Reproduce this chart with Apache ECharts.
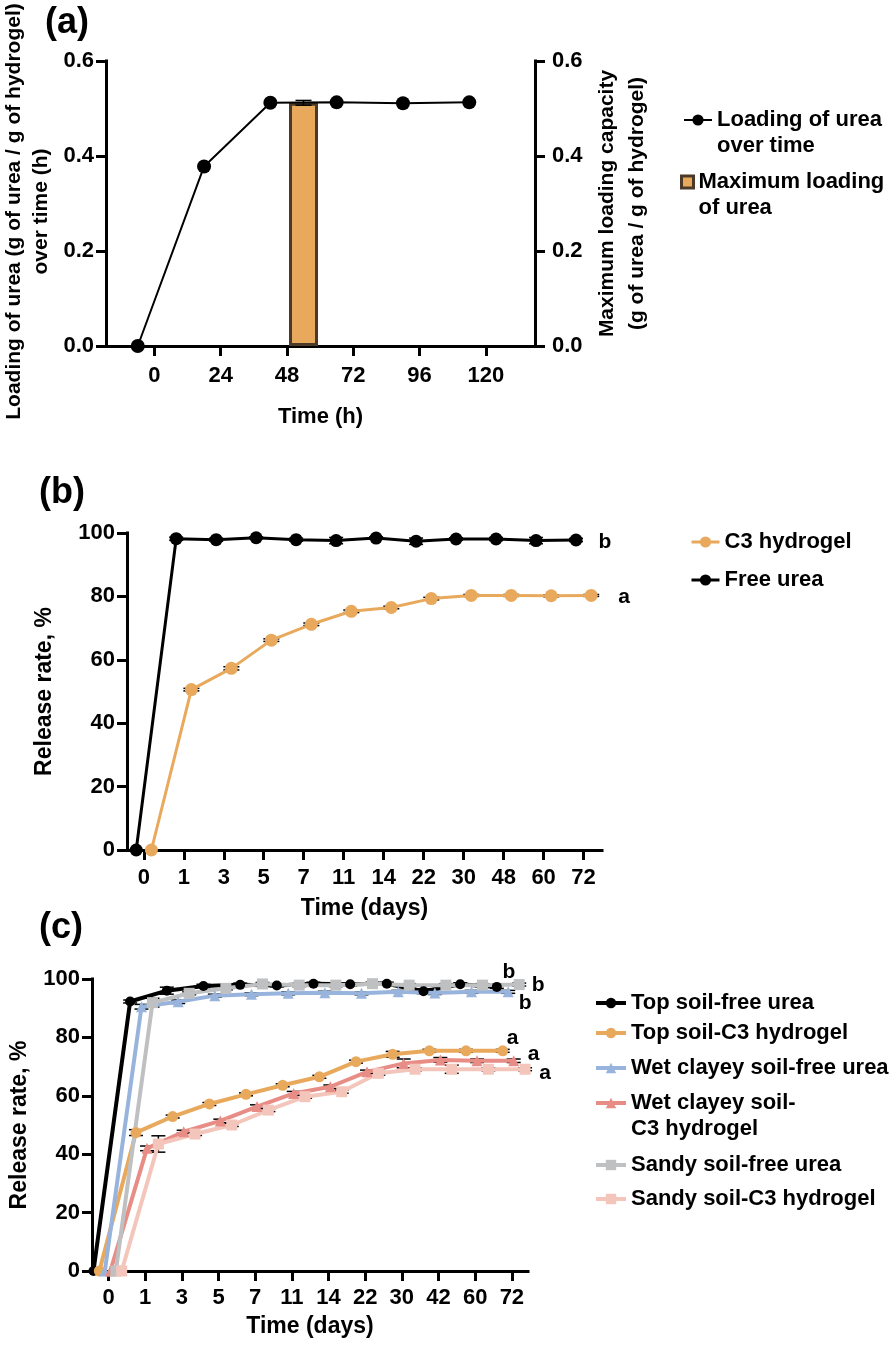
<!DOCTYPE html>
<html><head><meta charset="utf-8">
<script src="https://cdn.jsdelivr.net/npm/echarts@6/dist/echarts.min.js"></script>
<style>html,body{margin:0;padding:0;background:#fff}#c{width:896px;height:1347px}</style>
</head><body><div id="c"></div>
<script>
// ================= DATA =================
// (a) loading of urea over time
const aTimeH = [0, 24, 48, 72, 96, 120];
const aLoading = [0.000, 0.378, 0.512, 0.513, 0.511, 0.513];
const aMaxLoadingTime = 48;
const aMaxLoading = 0.512;
const aMaxLoadingErr = 0.005;
const aXTicks = [0, 24, 48, 72, 96, 120];

// (b) release in water
const bDayLabels = ['0','1','3','5','7','11','14','22','30','48','60','72'];
const bC3 = [0, 50.6, 57.3, 66.2, 71.2, 75.3, 76.5, 79.3, 80.3, 80.3, 80.2, 80.3];
const bC3Err = [0, 0.4, 0.5, 0.4, 0.4, 0.4, 0.4, 0.4, 0.3, 0.3, 0.3, 0.3];
const bFree = [0, 98.2, 97.9, 98.5, 97.9, 97.6, 98.4, 97.4, 98.1, 98.1, 97.6, 97.8];
const bFreeErr = [0, 0.5, 0.5, 0.3, 0.5, 1.0, 0.4, 1.0, 0.4, 0.5, 1.0, 0.5];

// (c) release in soils
const cDayLabels = ['0','1','3','5','7','11','14','22','30','42','60','72'];
const cTopFree = [0, 92.3, 96.0, 97.6, 98.0, 97.8, 98.4, 98.2, 98.4, 95.8, 98.2, 97.3];
const cTopFreeErr = [0, 0.5, 1.2, 0.6, 0.6, 0.5, 0.5, 0.5, 0.5, 0.8, 0.5, 0.5];
const cTopC3 = [0, 47.4, 52.9, 57.2, 60.5, 63.6, 66.5, 71.7, 74.2, 75.4, 75.4, 75.4];
const cTopC3Err = [0, 1.0, 0.5, 0.5, 0.5, 0.5, 0.5, 0.5, 1.0, 0.5, 0.5, 0.5];
const cWetFree = [0, 90.5, 92.2, 94.3, 94.8, 95.1, 95.3, 95.1, 95.6, 95.2, 95.6, 95.6];
const cWetFreeErr = [0, 0.8, 0.6, 0.5, 0.5, 0.5, 0.5, 0.5, 0.5, 0.5, 0.5, 0.5];
const cWetC3 = [0, 42.0, 47.7, 51.4, 56.3, 60.8, 63.1, 68.2, 71.1, 72.3, 72.0, 72.0];
const cWetC3Err = [0, 0.8, 0.5, 0.6, 0.6, 0.7, 0.6, 0.6, 1.5, 0.8, 0.6, 0.6];
const cSandFree = [0, 91.9, 95.1, 96.8, 98.3, 97.9, 97.9, 98.4, 97.9, 97.9, 97.9, 98.1];
const cSandFreeErr = [0, 1.5, 0.5, 0.5, 0.5, 0.5, 0.5, 0.5, 0.5, 0.5, 0.5, 0.5];
const cSandC3 = [0, 43.5, 46.9, 50.0, 55.1, 59.7, 61.4, 67.7, 69.1, 69.1, 69.1, 69.1];
const cSandC3Err = [0, 2.8, 0.5, 0.5, 0.5, 0.5, 0.5, 0.6, 0.5, 1.4, 0.5, 0.5];

// ================= STYLE =================
const FONT = "'Liberation Sans', Arial, Helvetica, sans-serif";
const TXT = {fontFamily: FONT, fontWeight: 'bold', color: '#000'};
const ORANGE = '#E9A95D', BLUE = '#98B4DC', RED = '#E88C86', GREY = '#BEC0C2', PINK = '#F4C6BB', BROWN = '#4B3A28';

const axisLine = () => ({show: true, onZero: false, lineStyle: {color: '#000', width: 3, cap: 'square'}});
const axisTick = (cv) => { const t = {show: true, inside: false, length: 10, lineStyle: {color: '#000', width: 3}}; if (cv) t.customValues = cv; return t; };
const idx = (arr) => arr.map((_, i) => i);

function errRender(capHalf) {
  return function (params, api) {
    const x = api.value(0), lo = api.value(1), hi = api.value(2);
    const a = api.coord([x, lo]), b = api.coord([x, hi]);
    const st = {stroke: '#000', lineWidth: 1.5, fill: null};
    return {type: 'group', children: [
      {type: 'line', shape: {x1: a[0], y1: a[1], x2: b[0], y2: b[1]}, style: st},
      {type: 'line', shape: {x1: a[0] - capHalf, y1: a[1], x2: a[0] + capHalf, y2: a[1]}, style: st},
      {type: 'line', shape: {x1: b[0] - capHalf, y1: b[1], x2: b[0] + capHalf, y2: b[1]}, style: st}
    ]};
  };
}
function errSeries(xi, yi, xs, vals, errs, capHalf, z) {
  const data = [];
  vals.forEach((v, i) => { if (errs[i] > 0) data.push([xs[i], v - errs[i], v + errs[i]]); });
  return {type: 'custom', xAxisIndex: xi, yAxisIndex: yi, renderItem: errRender(capHalf),
    encode: {x: 0, y: [1, 2]}, data, z: z || 2, silent: true};
}
function lineData(xs, vals, letter, off) {
  return vals.map((v, i) => {
    const d = {value: [xs[i], v]};
    if (letter && i === vals.length - 1) {
      d.label = {show: true, position: 'inside', formatter: letter, offset: off,
        fontSize: 21, fontFamily: FONT, fontWeight: 'bold', color: '#000'};
    }
    return d;
  });
}

// dodge offsets as drawn by the original figure
const A_LINE_SHIFT = -6, A_BAR_SHIFT = 6;
const bX = (o) => idx(bDayLabels).map(i => i + o);
const cX = (o) => idx(cDayLabels).map(i => i + o);

const catAxisX = (gi, min, max, labels, margin, name, gap) => ({
  type: 'value', gridIndex: gi, min, max, splitLine: {show: false},
  axisLine: axisLine(), axisTick: axisTick(idx(labels)),
  axisLabel: {customValues: idx(labels), formatter: v => labels[Math.round(v)], margin, fontSize: 22, ...TXT},
  name, nameLocation: 'middle', nameGap: gap, nameTextStyle: {fontSize: 23, ...TXT}
});
const pctAxisY = (gi, gap) => ({
  type: 'value', gridIndex: gi, min: 0, max: 100, interval: 20, splitLine: {show: false},
  axisLine: axisLine(), axisTick: axisTick(), axisLabel: {margin: 12, fontSize: 22, ...TXT},
  name: 'Release rate, %', nameLocation: 'middle', nameRotate: 90, nameGap: gap,
  nameTextStyle: {fontSize: 23, ...TXT}
});

const LEG_TXT = {fontSize: 22, lineHeight: 26, ...TXT};
// two-line legend entries: a blank leading line keeps the icon level with the first text line
function legendOne(name, left, top, w, h, lw, extra, twoLine) {
  const L = {data: [Object.assign({name}, extra || {})], left, top, itemWidth: w, itemHeight: h,
    padding: 0, selectedMode: false, textStyle: LEG_TXT, orient: 'vertical'};
  if (lw) L.lineStyle = {width: lw};
  if (twoLine) L.formatter = n => ' \n' + n;
  return L;
}

const lineSeries = (name, xi, yi, xs, vals, color, symbol, size, width, letter, off) => ({
  name, type: 'line', xAxisIndex: xi, yAxisIndex: yi, data: lineData(xs, vals, letter, off),
  symbol, symbolSize: size, showAllSymbol: true,
  lineStyle: {color, width}, itemStyle: {color, opacity: 1}, z: 3
});

const option = {
  animation: false,
  backgroundColor: '#fff',
  textStyle: {fontFamily: FONT},
  title: [
    {text: '(a)', left: 40, top: 0, textStyle: {fontSize: 36, ...TXT}},
    {text: '(b)', left: 34, top: 470, textStyle: {fontSize: 36, ...TXT}},
    {text: '(c)', left: 34, top: 905, textStyle: {fontSize: 36, ...TXT}}
  ],
  grid: [
    {left: 106, top: 61, width: 429, height: 285, containLabel: false, outerBoundsMode: 'none'},
    {left: 127, top: 533, width: 475, height: 317, containLabel: false, outerBoundsMode: 'none'},
    {left: 92, top: 979, width: 436, height: 292, containLabel: false, outerBoundsMode: 'none'}
  ],
  xAxis: [
    {type: 'value', gridIndex: 0, min: -17.5, max: 137.8, splitLine: {show: false},
      axisLine: axisLine(), axisTick: axisTick(aXTicks),
      axisLabel: {customValues: aXTicks, margin: 19, fontSize: 22, ...TXT},
      name: 'Time (h)', nameLocation: 'middle', nameGap: 60, nameTextStyle: {fontSize: 22, ...TXT}},
    catAxisX(1, -0.42, 11.46, bDayLabels, 17, 'Time (days)', 47),
    catAxisX(2, -0.45, 11.44, cDayLabels, 16, 'Time (days)', 44)
  ],
  yAxis: [
    {type: 'value', gridIndex: 0, position: 'left', min: 0, max: 0.6, interval: 0.2, splitLine: {show: false},
      axisLine: axisLine(), axisTick: axisTick(),
      axisLabel: {margin: 12, fontSize: 22, formatter: v => v.toFixed(1), ...TXT},
      name: 'Loading of urea (g of urea / g of hydrogel)\nover time (h)', nameLocation: 'middle',
      nameRotate: 90, nameGap: 51, nameTextStyle: {fontSize: 21, lineHeight: 27, padding: [0, 16, 0, 0], ...TXT}},
    {type: 'value', gridIndex: 0, position: 'right', min: 0, max: 0.6, interval: 0.2, splitLine: {show: false},
      axisLine: axisLine(), axisTick: axisTick(),
      axisLabel: {margin: 17, fontSize: 22, formatter: v => v.toFixed(1), ...TXT},
      name: 'Maximum loading capacity\n(g of urea / g of hydrogel)', nameLocation: 'middle',
      nameRotate: 90, nameGap: 57, nameTextStyle: {fontSize: 21, lineHeight: 30, ...TXT}},
    pctAxisY(1, 71),
    pctAxisY(2, 61)
  ],
  legend: [
    legendOne('Loading of urea\nover time', 683, 81, 28, 14, 2, null, true),
    legendOne('Maximum loading\nof urea', 680, 143, 12, 12, 0,
      {icon: 'rect', itemStyle: {color: ORANGE, borderColor: BROWN, borderWidth: 3}}, true),
    legendOne('C3 hydrogel', 690, 529, 28, 14, 3),
    legendOne('Free urea', 690, 567, 28, 14, 3),
    legendOne('Top soil-free urea', 594, 990, 30, 13, 4),
    legendOne('Top soil-C3 hydrogel', 594, 1020, 30, 13, 4),
    legendOne('Wet clayey soil-free urea', 594, 1055, 30, 13, 4),
    legendOne('Wet clayey soil-\nC3 hydrogel', 594, 1064, 30, 13, 4, null, true),
    legendOne('Sandy soil-free urea', 594, 1152, 30, 13, 4),
    legendOne('Sandy soil-C3 hydrogel', 594, 1186, 30, 13, 4)
  ],
  series: [
    // ---------- (a)
    {name: 'Maximum loading\nof urea', type: 'bar', xAxisIndex: 0, yAxisIndex: 1,
      data: [[aMaxLoadingTime + A_BAR_SHIFT, aMaxLoading]], barWidth: 29,
      itemStyle: {color: ORANGE, borderColor: BROWN, borderWidth: 3}, z: 2},
    errSeries(0, 1, [aMaxLoadingTime + A_BAR_SHIFT], [aMaxLoading], [aMaxLoadingErr], 8, 4),
    lineSeries('Loading of urea\nover time', 0, 0, aTimeH.map(t => t + A_LINE_SHIFT), aLoading, '#000', 'circle', 14, 2),
    // ---------- (b)
    lineSeries('Free urea', 1, 2, bX(-0.19), bFree, '#000', 'circle', 13, 3, 'b', [29, 2]),
    errSeries(1, 2, bX(-0.19), bFree, bFreeErr, 7),
    lineSeries('C3 hydrogel', 1, 2, bX(0.19), bC3, ORANGE, 'circle', 13, 3, 'a', [33, 2]),
    errSeries(1, 2, bX(0.19), bC3, bC3Err, 8),
    // ---------- (c)
    lineSeries('Top soil-free urea', 2, 3, cX(-0.41), cTopFree, '#000', 'circle', 10, 4, 'b', [12, -15]),
    errSeries(2, 3, cX(-0.41), cTopFree, cTopFreeErr, 7),
    lineSeries('Top soil-C3 hydrogel', 2, 3, cX(-0.25), cTopC3, ORANGE, 'circle', 11, 4, 'a', [10, -13]),
    errSeries(2, 3, cX(-0.25), cTopC3, cTopC3Err, 7),
    lineSeries('Wet clayey soil-free urea', 2, 3, cX(-0.10), cWetFree, BLUE, 'triangle', 11, 4, 'b', [17, 11]),
    errSeries(2, 3, cX(-0.10), cWetFree, cWetFreeErr, 7),
    lineSeries('Wet clayey soil-\nC3 hydrogel', 2, 3, cX(0.05), cWetC3, RED, 'triangle', 11, 4, 'a', [20, -7]),
    errSeries(2, 3, cX(0.05), cWetC3, cWetC3Err, 7),
    lineSeries('Sandy soil-free urea', 2, 3, cX(0.20), cSandFree, GREY, 'rect', 11, 4, 'b', [19, 1]),
    errSeries(2, 3, cX(0.20), cSandFree, cSandFreeErr, 7),
    lineSeries('Sandy soil-C3 hydrogel', 2, 3, cX(0.36), cSandC3, PINK, 'rect', 11, 4, 'a', [20, 4]),
    errSeries(2, 3, cX(0.36), cSandC3, cSandC3Err, 7)
  ]
};

const chart = echarts.init(document.getElementById('c'), null, {renderer: 'canvas', width: 896, height: 1347});
chart.setOption(option);
</script></body></html>
